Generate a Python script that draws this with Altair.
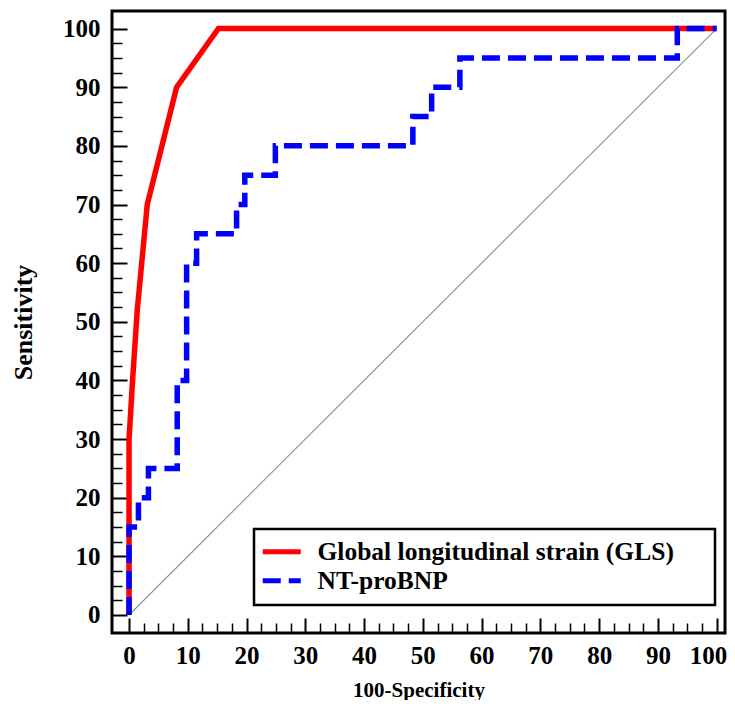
import altair as alt
import pandas as pd

# ---- data ----
series_names = ["Global longitudinal strain (GLS)", "NT-proBNP"]

gls_x = [0, 0, 0.6, 1.4, 3.1, 8.1, 15.2, 100]
gls_y = [0, 30, 40, 52, 70, 90, 100, 100]

nt_x = [0, 0, 1.6, 1.6, 3.3, 3.3, 8.2, 8.2, 9.8, 9.8, 11.5, 11.5, 18.3, 18.3,
        19.7, 19.7, 24.9, 24.9, 48.3, 48.3, 51.5, 51.5, 56.3, 56.3, 93.3, 93.3, 100]
nt_y = [0, 15, 15, 20, 20, 25, 25, 40, 40, 60, 60, 65, 65, 70, 70, 75, 75, 80,
        80, 85, 85, 90, 90, 95, 95, 100, 100]

diag_x = [0, 100]
diag_y = [0, 100]

major_ticks = list(range(0, 101, 10))
minor_ticks = [v / 2 for v in range(5, 200, 5) if v % 20 != 0]

gls_df = pd.DataFrame({"x": gls_x, "y": gls_y, "idx": range(len(gls_x)),
                       "series": series_names[0]})
nt_df = pd.DataFrame({"x": nt_x, "y": nt_y, "idx": range(len(nt_x)),
                      "series": series_names[1]})
diag_df = pd.DataFrame({"x": diag_x, "y": diag_y})

FONT = "Liberation Serif"
xdom = [-2.9, 101.42]
ydom = [-3.07, 103]

x_major = alt.Axis(values=major_ticks, orient="bottom", offset=-15, tickSize=15,
                   tickWidth=2, tickColor="black", domain=False, grid=False,
                   labelPadding=10, labelFontSize=25, labelFont=FONT,
                   labelFontWeight="bold", labelColor="black",
                   labelFlush=10, labelFlushOffset=10,
                   titleFont=FONT, titleFontSize=21, titleFontWeight="bold",
                   titleColor="black", titlePadding=11)
y_major = alt.Axis(values=major_ticks, orient="left", offset=-15, tickSize=15,
                   tickWidth=2, tickColor="black", domain=False, grid=False,
                   labelPadding=12, labelFontSize=25, labelFont=FONT,
                   labelFontWeight="bold", labelColor="black",
                   titleFont=FONT, titleFontSize=26, titleFontWeight="bold",
                   titleColor="black", titlePadding=26)
x_minor = alt.Axis(values=minor_ticks, orient="bottom", offset=-10, tickSize=10,
                   tickWidth=1.5, tickColor="black", domain=False, grid=False,
                   labels=False)
y_minor = alt.Axis(values=minor_ticks, orient="left", offset=-10, tickSize=10,
                   tickWidth=1.5, tickColor="black", domain=False, grid=False,
                   labels=False)

color_scale = alt.Scale(domain=series_names, range=["#ff0000", "#0000ff"])
dash_scale = alt.Scale(domain=series_names, range=[[1, 0], [18, 8]])

legend = alt.Legend(orient="none", legendX=142, legendY=518, title="\u00a0",
                    titleOrient="right", titlePadding=31, titleFontSize=4,
                    symbolType="M-2,0H2", symbolSize=361, symbolStrokeWidth=5,
                    symbolOffset=5,
                    labelFont=FONT, labelFontSize=25.5, labelFontWeight="bold",
                    labelColor="black", labelOffset=23, labelLimit=800,
                    padding=10, rowPadding=2, strokeColor="black")

diag = alt.Chart(diag_df).mark_line(color="#8c8c8c", strokeWidth=1.1).encode(
    x=alt.X("x:Q", scale=alt.Scale(domain=xdom, nice=False, zero=False),
            axis=x_minor, title=None),
    y=alt.Y("y:Q", scale=alt.Scale(domain=ydom, nice=False, zero=False),
            axis=y_minor, title=None),
)

gls = alt.Chart(gls_df).mark_line(strokeWidth=5.5, strokeCap="butt").encode(
    x=alt.X("x:Q", scale=alt.Scale(domain=xdom, nice=False, zero=False),
            axis=x_major, title="100-Specificity"),
    y=alt.Y("y:Q", scale=alt.Scale(domain=ydom, nice=False, zero=False),
            axis=y_major, title="Sensitivity"),
    color=alt.Color("series:N", scale=color_scale, legend=legend),
    strokeDash=alt.StrokeDash("series:N", scale=dash_scale, legend=legend),
    order=alt.Order("idx:Q"),
)

nt = alt.Chart(nt_df).mark_line(strokeWidth=5.5, strokeCap="butt").encode(
    x=alt.X("x:Q", scale=alt.Scale(domain=xdom, nice=False, zero=False), axis=None),
    y=alt.Y("y:Q", scale=alt.Scale(domain=ydom, nice=False, zero=False), axis=None),
    color=alt.Color("series:N", scale=color_scale, legend=legend),
    strokeDash=alt.StrokeDash("series:N", scale=dash_scale, legend=legend),
    order=alt.Order("idx:Q"),
)

chart = (
    alt.layer(diag, gls, nt)
    .resolve_axis(x="independent", y="independent")
    .properties(
        width=613, height=622,
        autosize=alt.AutoSizeParams(type="none"),
        padding={"left": 104, "top": 3, "right": 2, "bottom": 67},
        background="white",
    )
    .configure_view(stroke="black", strokeWidth=3)
    .configure_legend(strokeWidth=2.5)
)

chart.save("out.html", embed_options={"renderer": "svg", "actions": False})
